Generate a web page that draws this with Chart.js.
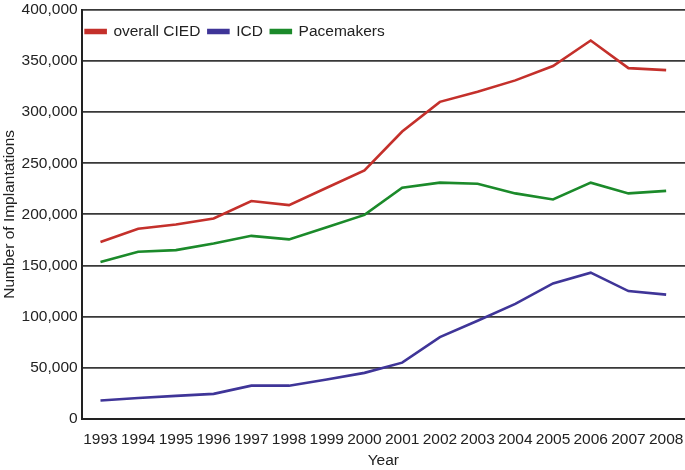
<!DOCTYPE html>
<html>
<head>
<meta charset="utf-8">
<script src="https://cdn.jsdelivr.net/npm/chart.js@4.4.0/dist/chart.umd.min.js"></script>
<style>
  html, body { margin: 0; padding: 0; background: #fff; }
  #myChart { display: block; }
</style>
</head>
<body>
<canvas id="myChart" width="685" height="470"></canvas>
<script>
const years = ['1993', '1994', '1995', '1996', '1997', '1998', '1999', '2000',
  '2001', '2002', '2003', '2004', '2005', '2006', '2007', '2008'];
const overallCied = [173000, 186000, 190000, 196000, 213000, 209000, 226000, 243000,
  281000, 310000, 320000, 331000, 345000, 370000, 343000, 341000];
const icd = [18000, 20500, 22500, 24500, 32500, 32500, 38500, 45000,
  55000, 80000, 96000, 112500, 132500, 143000, 125000, 121500];
const pacemakers = [153500, 163500, 165000, 171500, 179000, 175500, 187500, 199500,
  226000, 231000, 230000, 220500, 214500, 231000, 220500, 223000];

document.addEventListener('DOMContentLoaded', function() {
  if (typeof Chart === 'undefined') {
    console.error('Chart.js is not loaded');
    return;
  }

  const font = { family: '"Liberation Sans", Arial, sans-serif', size: 15.5 };

  // legend sits inside the plot, in one row, like the original
  const legendInside = {
    id: 'legendInside',
    beforeLayout(chart) {
      if (chart.legend) chart.legend.isHorizontal = () => true;
    },
    afterLayout(chart) {
      const lg = chart.legend;
      const ca = chart.chartArea;
      if (!lg) return;
      const w = lg.width, h = lg.height;
      lg.left = ca.left - 4;
      lg.right = lg.left + w;
      lg.top = ca.top + 6;
      lg.bottom = lg.top + h;
    }
  };

  const line = (label, data, color) => ({
    label: label,
    data: data,
    borderColor: color,
    backgroundColor: color,
    borderWidth: 2.6,
    pointRadius: 0,
    tension: 0,
    fill: false
  });

  new Chart(document.getElementById('myChart'), {
    type: 'line',
    data: {
      labels: years,
      datasets: [
        line('overall CIED', overallCied, '#c4302b'),
        line('ICD', icd, '#3f3598'),
        line('Pacemakers', pacemakers, '#1b8a2a')
      ]
    },
    plugins: [legendInside],
    options: {
      responsive: false,
      animation: false,
      devicePixelRatio: 1,
      layout: { padding: 0 },
      plugins: {
        legend: {
          position: 'chartArea',
          align: 'start',
          labels: {
            font: font,
            color: '#222',
            boxWidth: 20,
            boxHeight: 3,
            padding: 8
          }
        },
        tooltip: { enabled: false }
      },
      scales: {
        x: {
          offset: true,
          // invisible tick marks stand in for label padding
          grid: {
            display: true,
            drawOnChartArea: false,
            drawTicks: true,
            tickLength: 13,
            tickColor: 'rgba(0,0,0,0)'
          },
          border: { color: '#222', width: 2 },
          ticks: {
            font: { ...font, lineHeight: 1 },
            color: '#222',
            autoSkip: false,
            maxRotation: 0,
            padding: 0
          },
          title: {
            display: true,
            text: 'Year',
            font: font,
            color: '#222',
            padding: { top: 4, bottom: 0 }
          }
        },
        y: {
          min: 0,
          max: 400000,
          grid: { color: '#383838', lineWidth: 1.8, drawTicks: false },
          border: { color: '#222', width: 2 },
          ticks: {
            stepSize: 50000,
            font: { ...font, lineHeight: 0.75 },
            color: '#222',
            padding: 4,
            callback: v => v.toLocaleString('en-US')
          },
          title: {
            display: true,
            text: 'Number of Implantations',
            font: font,
            color: '#222',
            padding: { top: 0, bottom: -1 }
          }
        }
      }
    }
  });
});
</script>
</body>
</html>
